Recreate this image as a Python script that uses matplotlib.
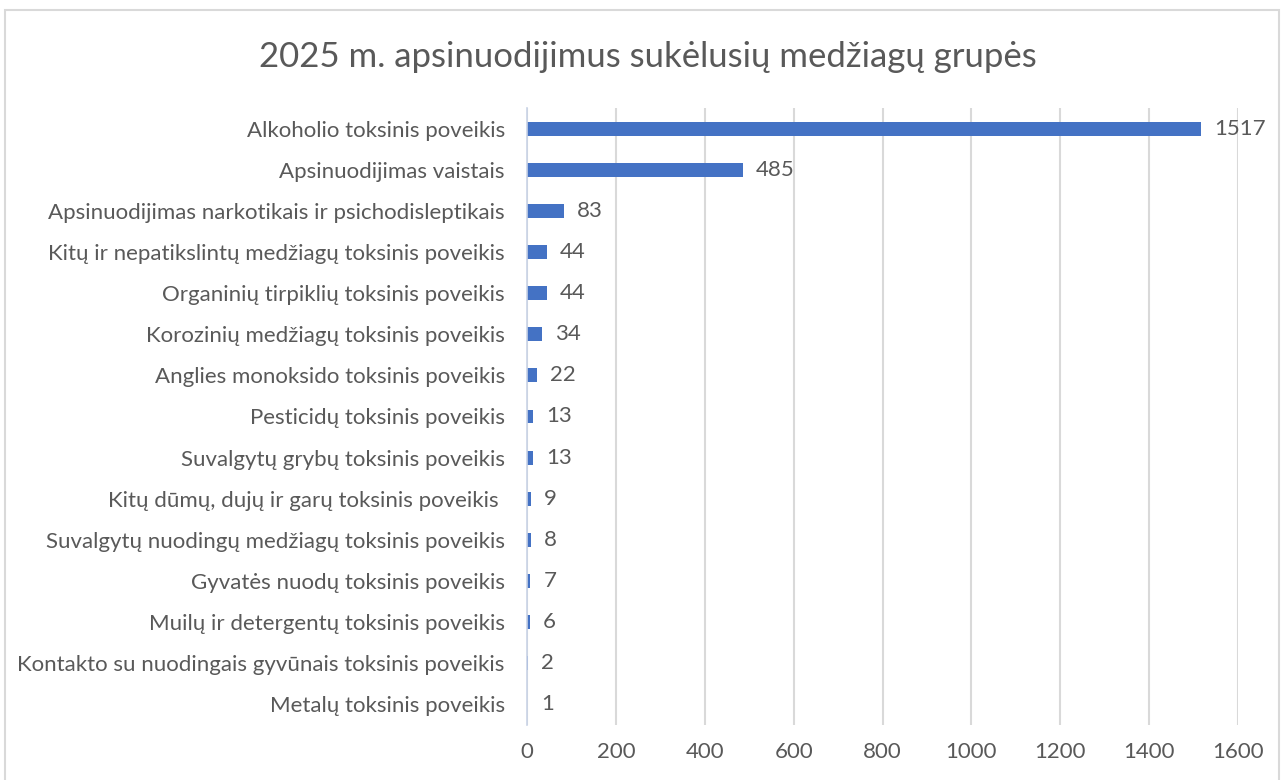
import matplotlib.pyplot as plt
import matplotlib.patches as patches

categories = ['Alkoholio toksinis poveikis',
              'Apsinuodijimas vaistais',
              'Apsinuodijimas narkotikais ir psichodisleptikais',
              'Kitų ir nepatikslintų medžiagų toksinis poveikis',
              'Organinių tirpiklių toksinis poveikis',
              'Korozinių medžiagų toksinis poveikis',
              'Anglies monoksido toksinis poveikis',
              'Pesticidų toksinis poveikis',
              'Suvalgytų grybų toksinis poveikis',
              'Kitų dūmų, dujų ir garų toksinis poveikis ',
              'Suvalgytų nuodingų medžiagų toksinis poveikis',
              'Gyvatės nuodų toksinis poveikis',
              'Muilų ir detergentų toksinis poveikis',
              'Kontakto su nuodingais gyvūnais toksinis poveikis',
              'Metalų toksinis poveikis']
values = [1517, 485, 83, 44, 44, 34, 22, 13, 13, 9, 8, 7, 6, 2, 1]
xticks = [0, 200, 400, 600, 800, 1000, 1200, 1400, 1600]
title = '2025 m. apsinuodijimus sukėlusių medžiagų grupės'

plt.rcParams['font.family'] = ['Lato', 'DejaVu Sans']
text_color = '#595959'
bar_color = '#4472C4'
grid_color = '#D9D9D9'

fig = plt.figure(figsize=(12.84, 7.8), dpi=100)
ax = fig.add_axes([527 / 1284, 1 - 725 / 780, (1238 - 527) / 1284, (725 - 108) / 780])

y = list(range(len(categories)))
ax.barh(y, values, height=0.34, color=bar_color, zorder=3)
for yi, v in zip(y, values):
    ax.text(v + 30, yi, str(v), va='center', ha='left', fontsize=16, color=text_color)

ax.set_ylim(len(categories) - 0.5, -0.5)
ax.set_xlim(0, 1600)
ax.set_yticks(y)
ax.set_yticklabels(categories, fontsize=16, color=text_color)
ax.set_xticks(xticks)
ax.set_xticklabels([str(t) for t in xticks], fontsize=16, color=text_color)
ax.tick_params(axis='both', length=0)
ax.tick_params(axis='x', pad=12)
ax.tick_params(axis='y', pad=16)
ax.xaxis.grid(True, color=grid_color, lw=1.5, zorder=0)
for side in ['top', 'right', 'bottom']:
    ax.spines[side].set_visible(False)
ax.spines['left'].set_color('#C9D3E6')
ax.spines['left'].set_linewidth(1.2)
ax.spines['left'].set_zorder(4)

fig.text(648 / 1284, 1 - 57 / 780, title, ha='center', va='center', fontsize=25, color=text_color)

border = patches.Rectangle((5 / 1284, -0.05), (1279 - 5) / 1284, 1.05 - 10 / 780,
                           transform=fig.transFigure, fill=False, edgecolor=grid_color, lw=1.5)
fig.patches.append(border)

plt.savefig('out.png', dpi=100)
